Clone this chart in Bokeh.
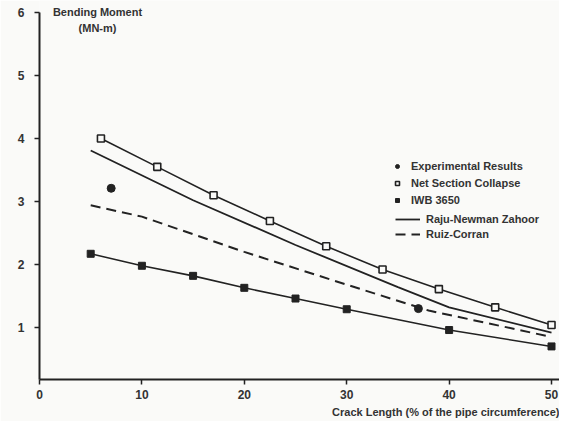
from bokeh.plotting import figure
from bokeh.models import Range1d, FixedTicker, Legend, LegendItem, Label, Title
from bokeh.embed import file_html
from bokeh.resources import INLINE

# ---- data ----
crack_nsc = [6, 11.5, 17, 22.5, 28, 33.5, 39, 44.5, 50]
moment_nsc = [4.0, 3.55, 3.10, 2.69, 2.29, 1.92, 1.61, 1.32, 1.04]

crack_iwb = [5, 10, 15, 20, 25, 30, 40, 50]
moment_iwb = [2.17, 1.98, 1.82, 1.63, 1.46, 1.29, 0.96, 0.70]

crack_raju = [5, 15, 25, 35, 40, 50]
moment_raju = [3.81, 3.02, 2.31, 1.64, 1.32, 0.92]

crack_ruiz = [5, 10, 20, 30, 38, 50]
moment_ruiz = [2.94, 2.76, 2.20, 1.68, 1.27, 0.85]

crack_exp = [7, 37]
moment_exp = [3.21, 1.30]

x_ticks = [0, 10, 20, 30, 40, 50]
y_ticks = [1, 2, 3, 4, 5, 6]

FONT = "Liberation Sans"
INK = "#222222"
TXT = "#333333"
BG = "#fafaf8"

p = figure(width=559, height=421,
           x_range=Range1d(0, 50.78), y_range=Range1d(0.175, 6.19),
           output_backend="svg", toolbar_location=None,
           min_border_left=39, min_border_right=0,
           min_border_top=0, min_border_bottom=42)

p.background_fill_color = BG
p.border_fill_color = BG
p.outline_line_color = None
p.xgrid.visible = False
p.ygrid.visible = False

for ax in (p.xaxis[0], p.yaxis[0]):
    ax.axis_line_color = INK
    ax.axis_line_width = 2
    ax.major_tick_line_color = INK
    ax.major_tick_line_width = 1.5
    ax.major_tick_in = 0
    ax.major_tick_out = 5
    ax.minor_tick_line_color = None
    ax.major_label_text_font = FONT
    ax.major_label_text_font_style = "bold"
    ax.major_label_text_font_size = "12px"
    ax.major_label_text_color = TXT

p.xaxis.ticker = FixedTicker(ticks=x_ticks)
p.yaxis.ticker = FixedTicker(ticks=y_ticks)
p.yaxis.bounds = (0.175, 6.0)
p.xaxis.major_label_standoff = 5
p.yaxis.major_label_standoff = 10

# x-axis title, right-aligned below the axis
p.add_layout(Title(text="Crack Length (% of the pipe circumference)",
                   align="right", text_font=FONT, text_font_style="bold",
                   text_font_size="11px", text_color=TXT,
                   standoff=4, offset=0), "below")

# ---- series ----
p.line(crack_nsc, moment_nsc, line_color=INK, line_width=1.6)
r_nsc = p.scatter(crack_nsc, moment_nsc, marker="square", size=7,
                  fill_color=BG, line_color=INK, line_width=1.6)

p.line(crack_iwb, moment_iwb, line_color=INK, line_width=1.6)
r_iwb = p.scatter(crack_iwb, moment_iwb, marker="square", size=7,
                  fill_color=INK, line_color=INK)

r_raju = p.line(crack_raju, moment_raju, line_color=INK, line_width=1.8)
r_ruiz = p.line(crack_ruiz, moment_ruiz, line_color=INK, line_width=2,
                line_dash="10 6")

r_exp = p.scatter(crack_exp, moment_exp, marker="circle", size=8,
                  fill_color=INK, line_color=INK)

# ---- legends ----
leg1 = Legend(items=[LegendItem(label="Experimental Results", renderers=[r_exp]),
                     LegendItem(label="Net Section Collapse", renderers=[r_nsc]),
                     LegendItem(label="IWB 3650", renderers=[r_iwb])],
              location=(353, 172), glyph_width=10, glyph_height=14,
              label_height=14, spacing=3, label_standoff=9)
leg2 = Legend(items=[LegendItem(label="Raju-Newman Zahoor", renderers=[r_raju]),
                     LegendItem(label="Ruiz-Corran", renderers=[r_ruiz])],
              location=(356, 138), glyph_width=25, glyph_height=14,
              label_height=14, spacing=1, label_standoff=6)
for lg in (leg1, leg2):
    lg.padding = 0
    lg.margin = 0
    lg.border_line_color = None
    lg.background_fill_alpha = 0
    lg.label_text_font = FONT
    lg.label_text_font_style = "bold"
    lg.label_text_font_size = "11px"
    lg.label_text_color = TXT
    p.add_layout(lg)

# ---- y-axis title ----
for txt, yy in (("Bending Moment", 368), ("(MN-m)", 352)):
    p.add_layout(Label(x=58, y=yy, x_units="screen", y_units="screen",
                       text=txt, text_align="center", text_baseline="middle",
                       text_font=FONT, text_font_style="bold",
                       text_font_size="11px", text_color=TXT))

open("out.html", "w").write(file_html(p, INLINE))
